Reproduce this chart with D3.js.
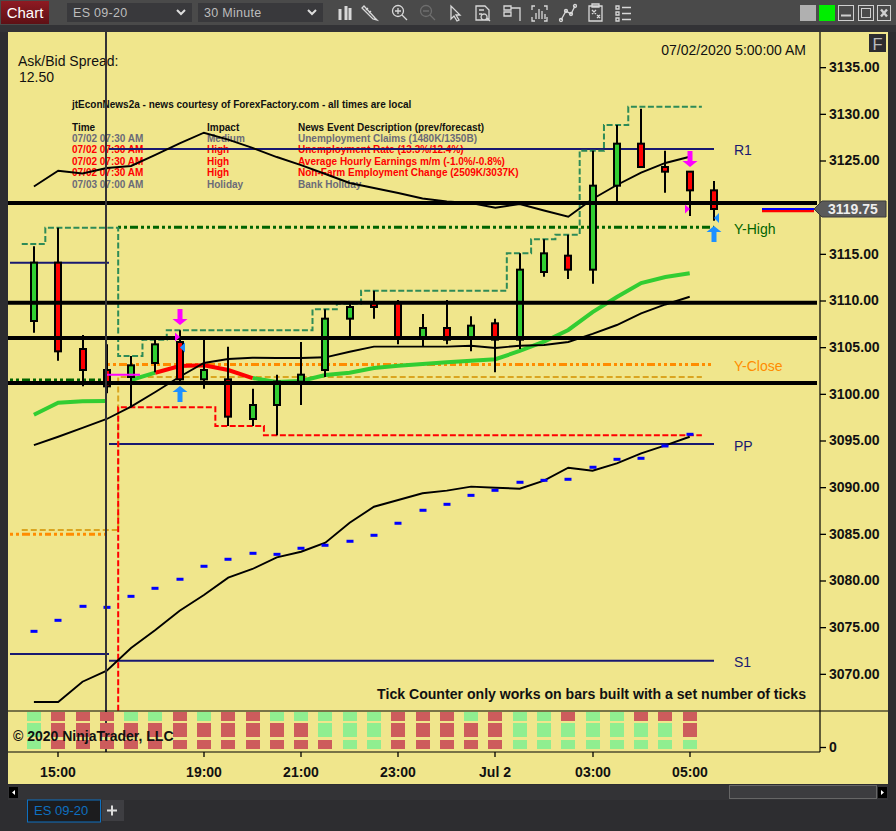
<!DOCTYPE html>
<html><head><meta charset="utf-8">
<script src="https://cdn.jsdelivr.net/npm/d3@7/dist/d3.min.js"></script>
<style>
html,body{margin:0;padding:0;background:#2d2d30;overflow:hidden}
svg{display:block}
text{font-family:"Liberation Sans",Arial,sans-serif}
</style></head><body>
<svg id="c" width="896" height="831"></svg>
<script>
// ---- data ----
const instrument = "ES 09-20";
const interval = "30 Minute";
const opens  = [3107.75,3114,3104.75,3102.5,3101.75,3103.25,3105.5,3101.5,3101.5,3097.25,3098.75,3101.25,3102.5,3108,3109.75,3109.75,3106,3107,3106,3107.5,3105.75,3113,3114.75,3113.25,3122.25,3126.75,3124.25,3123.75,3121.75];
const closes = [3114,3104.5,3102.5,3100.75,3103,3105.25,3101.5,3102.5,3097.5,3098.75,3101.25,3102,3108,3109.25,3109.25,3106,3107,3105.75,3107.25,3105.75,3113.25,3115,3113.25,3122.25,3126.75,3124.25,3123.75,3121.75,3119.75];
const highs  = [3115.75,3117.75,3106.25,3105.25,3104,3105.75,3106.75,3105.75,3105,3100.5,3102,3105.5,3109,3109.75,3111,3110,3108.5,3110,3108.25,3108,3115,3116.5,3117,3126,3128.75,3130.5,3126,3123.75,3122.75];
const lows   = [3106.5,3103.5,3100.75,3100,3098.5,3102.25,3101,3100.5,3096.5,3096.5,3095.5,3098.75,3101.75,3106,3108,3105.25,3105,3105.25,3104.5,3102.25,3104.75,3112.5,3112.25,3111.75,3120.5,3124.25,3121.5,3119,3118.5];

const upperLine = [3122.16,3123.85,3123.55,3124.14,3124.36,3125.54,3126.79,3127.92,3127.18,3126.29,3125.32,3124.46,3123.5,3122.54,3122,3121.46,3120.87,3120.55,3120.39,3119.89,3120.29,3119.59,3118.92,3120.82,3122.32,3123.64,3124.68,3125.35];
const midLine = [3094.46,3095.35,3096.29,3097.25,3098.57,3100.14,3101.78,3103.25,3103.68,3103.82,3103.79,3103.79,3103.86,3104.46,3105,3105,3105,3105,3105.1,3104.86,3105.1,3105.18,3105.5,3106.36,3107.32,3108.57,3109.52,3110.35];
const lowerLine = [3066.93,3066.93,3069.1,3070.28,3072.71,3074.64,3076.71,3078.39,3080.25,3081.18,3082.43,3083.03,3084,3086.14,3087.85,3088.57,3089.29,3089.57,3090,3089.89,3089.78,3090.64,3092.03,3091.71,3092.5,3093.57,3094.43,3095.35];
const blueDashes = [3074.5,3075.68,3077.18,3077.07,3078.25,3079.11,3080.08,3081.47,3082.22,3082.86,3082.75,3083.4,3083.72,3084.15,3084.79,3086.08,3087.47,3088.11,3089.07,3089.61,3090.47,3090.68,3090.79,3092.08,3092.93,3093.04,3094.36,3095.61];
const trendMA = [3097.71,3099,3099.15,3099.18,3101.43,3102.21,3102.93,3103,3102.5,3101.64,3101.21,3101.32,3101.96,3102.21,3102.71,3102.96,3103.14,3103.32,3103.5,3103.65,3104.54,3105.53,3106.79,3108.71,3110.32,3111.82,3112.46,3112.86];

const highStepAt  = [-0.5,0.47,3.47,4.47,5.47,11.47,12.47,13.47,19.47,20.47,21.47,22.47,23.47,24.47,27.5];
const highStepVal = [3116,3117.75,3104,3105.75,3106.75,3109,3109.6,3111,3115,3116.5,3117,3126,3128.75,3130.7,3130.7];
const lowStepAt   = [3.47,3.47,7.47,9.47,27.5];
const lowStepVal  = [3066,3098.5,3096.5,3095.5,3095.5];
const closeStepAt = [-0.5,3.47,27.5];
const closeStepVal= [3085.35,3101.75,3101.75];

const heavyLevels = [3120.4,3109.7,3105.93,3101.1];
const priorR1 = 3114, priorS1 = 3072.07;
const pivotR1 = 3126.18, pivotPP = 3094.57, pivotS1 = 3071.35;
const yHigh = 3117.8, yClose = 3103.1;
const yHighPrior = 3101.43, yClosePrior = 3084.9;

const priceTicks = [3135,3130,3125,3115,3110,3105,3100,3095,3090,3085,3080,3075,3070];
const timeTickAt = [1,7,11,15,19,23,27];
const timeTickLabels = ["15:00","19:00","21:00","23:00","Jul 2","03:00","05:00"];

const counterTop = "GRRRGGRGRRGGGGGRRRGRGGRGGRRR";
const counterMid = "GRRRRRRRRRRRGGGRRRRRGGGGGGGR";
const counterBot = "GRRRRRRRRRRRRGGRRRRRGGGGGGGG";

const downArrows = [6,27], downArrowPrice = [3107.43,3124.36];
const upArrows = [6,28], upArrowPrice = [3100.68,3117.82];
const rightFlags = [6,27], rightFlagPrice = [3106.04,3119.75];
const leftFlags = [6,28], leftFlagPrice = [3104.91,3118.79];
const crossBar = 3, crossPrice = 3102.0;
const lastPrice = 3119.75;

const newsTitle = "jtEconNews2a - news courtesy of ForexFactory.com - all times are local";
const newsHead = ["Time","Impact","News Event Description (prev/forecast)"];
const newsTimes = ["07/02 07:30 AM","07/02 07:30 AM","07/02 07:30 AM","07/02 07:30 AM","07/03 07:00 AM"];
const newsImpact = ["Medium","High","High","High","Holiday"];
const newsDesc = ["Unemployment Claims (1480K/1350B)","Unemployment Rate (13.3%/12.4%)","Average Hourly Earnings m/m (-1.0%/-0.8%)","Non-Farm Employment Change (2509K/3037K)","Bank Holiday"];

// ---- scales ----
const x = d3.scaleLinear().domain([0,28]).rangeRound([34,714]);
const xf = d3.scaleLinear().domain([0,28]).range([33.9,714]);
const y = d3.scaleLinear().domain([3095,3135]).range([440,66.67]);
const yv = d3.scaleLinear().domain([0,1]).range([747,720]);

const KHAKI="#F0E68C", NAVY="#191970", GREEN="#32CD32", RED="#FF0000", SEA="#2E8B57", DKGREEN="#006400", ORANGE="#FF8C00", GOLD="#DAA520";
const L=8,R=888,T=32,B=784,AX=820,SEP=711,BOT=752;

const svg = d3.select("#c");
const defs = svg.append("defs");
defs.append("clipPath").attr("id","price").append("rect").attr("x",L).attr("y",T).attr("width",AX-L).attr("height",SEP-T);
const g1 = defs.append("linearGradient").attr("id","btn").attr("x1",0).attr("x2",0).attr("y1",0).attr("y2",1);
g1.append("stop").attr("offset",0).attr("stop-color","#8f1a22");g1.append("stop").attr("offset",1).attr("stop-color","#5e1015");

// chrome
svg.append("rect").attr("width",896).attr("height",831).attr("fill","#2d2d30");
svg.append("rect").attr("width",896).attr("height",25).attr("fill","#4a4a4a");
svg.append("rect").attr("y",25).attr("width",896).attr("height",7).attr("fill","#333336");
svg.append("rect").attr("x",1).attr("y",1).attr("width",48).attr("height",23).attr("fill","url(#btn)");
svg.append("text").attr("x",25).attr("y",18).attr("text-anchor","middle").attr("fill","#fff").attr("font-size",15).text("Chart");
function combo(xp,w,label){
  svg.append("rect").attr("x",xp).attr("y",3).attr("width",w).attr("height",19).attr("fill","#39393c");
  svg.append("text").attr("x",xp+6).attr("y",17).attr("fill","#bdbdbd").attr("font-size",12.5).attr("letter-spacing",0.3).text(label);
  svg.append("path").attr("d",`M${xp+w-15},10l4,4l4,-4`).attr("fill","none").attr("stroke","#ddd").attr("stroke-width",2);
}
combo(67,125,instrument); combo(198,125,interval);
const ic = svg.append("g").attr("fill","none").attr("stroke","#d8d8d8").attr("stroke-width",1.3);
ic.append("path").attr("d","M340,9v11M346,6v14M350,8v12").attr("stroke-width",3);
ic.append("path").attr("d","M364,6l11,12l2,2l-4,-1l-11,-11zM366,10l2,-2M369,13l2,-2");
ic.append("circle").attr("cx",398).attr("cy",11).attr("r",5.5);ic.append("path").attr("d","M402,15l5,5M395,11h6M398,8v6");
const icd=ic.append("g").attr("stroke","#6e6e6e");icd.append("circle").attr("cx",426).attr("cy",11).attr("r",5.5);icd.append("path").attr("d","M430,15l5,5M423,11h6");
ic.append("path").attr("d","M451,6v13l3,-3l3,5l2,-1l-3,-5h4z");
ic.append("path").attr("d","M476,6h9l4,4v10h-13zM479,10h5M479,14h3M484,14a3,3 0 1 0 0.1,0M487,18l3,3");
ic.append("path").attr("d","M504,6h7v4h-7zM504,12h7v4h-7zM511,8h9v13");
ic.append("path").attr("d","M532,10v-4h3M544,6h3v4M532,17v4h3M544,21h3v-4M536,19v-6M539,19v-10M542,19v-8M545,19v-5");
ic.append("path").attr("d","M561,20l5,-9l5,3l4,-8");ic.append("g").selectAll("circle").data([[561,20],[566,11],[571,14],[575,6]]).join("circle").attr("cx",d=>d[0]).attr("cy",d=>d[1]).attr("r",1.5);
ic.append("path").attr("d","M589,6h13v15h-13zM592,4h7v3h-7zM592,10l4,4M596,10l-4,4M597,15l3,3M600,15l-3,3");
ic.append("path").attr("d","M616,6h3v3h-3zM616,12h3v3h-3zM616,18h3v3h-3zM622,7.5h9M622,13.5h9M622,19.5h9");
svg.append("rect").attr("x",800).attr("y",5).attr("width",16).attr("height",16).attr("fill","#b0b0b0");
svg.append("rect").attr("x",819).attr("y",5).attr("width",16).attr("height",16).attr("fill","#00ee00");
const wb=svg.append("g").attr("fill","none").attr("stroke","#cfcfcf").attr("stroke-width",1);
wb.append("rect").attr("x",838.5).attr("y",5.5).attr("width",15).attr("height",15);wb.append("path").attr("d","M841,15.5h10").attr("stroke-width",2);
wb.append("rect").attr("x",858.5).attr("y",5.5).attr("width",15).attr("height",15);wb.append("rect").attr("x",861.5).attr("y",8.5).attr("width",9).attr("height",9);
wb.append("rect").attr("x",877.5).attr("y",5.5).attr("width",13).attr("height",15);wb.append("path").attr("d","M881,9.5l6,7M887,9.5l-6,7").attr("stroke-width",2.4);

// panel
svg.append("rect").attr("x",L).attr("y",T).attr("width",R-L).attr("height",B-T).attr("fill",KHAKI);
svg.append("text").attr("x",18).attr("y",66).attr("font-size",14).attr("fill","#111").text("Ask/Bid Spread:");
svg.append("text").attr("x",19).attr("y",82).attr("font-size",14).attr("fill","#111").text("12.50");
svg.append("text").attr("x",806).attr("y",55).attr("text-anchor","end").attr("font-size",14).attr("fill","#111").text("07/02/2020 5:00:00 AM");
svg.append("rect").attr("x",869).attr("y",34).attr("width",17).attr("height",18).attr("fill","#2d2d30");
svg.append("text").attr("x",877.5).attr("y",49.5).attr("text-anchor","middle").attr("font-size",16.5).attr("fill","#bbb").text("F");

// news
const news = svg.append("g").attr("font-size",10).attr("font-weight","bold");
news.append("text").attr("x",72).attr("y",107.5).attr("fill","#111").text(newsTitle);
const colX=[72,207,298];
newsHead.forEach((t,i)=>news.append("text").attr("x",colX[i]).attr("y",131).attr("fill","#111").text(t));
const rowY = d3.scaleLinear().domain([0,4]).range([142,187.5]);
newsTimes.forEach((t,i)=>{
  const col = newsImpact[i]==="High"?RED:"#6b6b78";
  [t,newsImpact[i],newsDesc[i]].forEach((s,j)=>news.append("text").attr("x",colX[j]).attr("y",rowY(i)).attr("fill",col).text(s));
});

const plot = svg.append("g").attr("clip-path","url(#price)");
const line = d3.line().x((d,i)=>xf(i)).y(d=>y(d));

// session crosshair line
svg.append("line").attr("x1",106).attr("x2",106).attr("y1",T).attr("y2",BOT).attr("stroke","#333336").attr("stroke-width",2);

// pivots
function hl(i0,i1,v,col,w,dash){
  const l=plot.append("line").attr("x1",i0).attr("x2",i1).attr("y1",y(v)).attr("y2",y(v)).attr("stroke",col).attr("stroke-width",w);
  if(dash) l.attr("stroke-dasharray",dash);
  return l;
}
const xS = x(3)+2;
hl(10,109,priorR1,NAVY,2); hl(10,109,priorS1,NAVY,2);
hl(xS,x(28),pivotR1,NAVY,2); hl(xS,x(28),pivotPP,NAVY,2); hl(xS,x(28),pivotS1,NAVY,2);

// prior-day levels
const dotted="3 3 3 3 8 3 3 3 3 3 6 3";
hl(10,x(3),yHighPrior,DKGREEN,3,dotted); hl(x(3.47),x(28),yHigh,DKGREEN,3,dotted);
hl(10,x(3),yClosePrior,ORANGE,3,dotted); hl(x(3),x(28),yClose,ORANGE,3,dotted);

// step lines
const stepLine = d3.line().curve(d3.curveStepAfter).x(d=>xf(d[0])).y(d=>y(d[1]));
plot.append("path").attr("d",stepLine(d3.zip(closeStepAt,closeStepVal))).attr("fill","none").attr("stroke",GOLD).attr("stroke-width",2).attr("stroke-dasharray","6 3");
plot.append("path").attr("d",stepLine(d3.zip(highStepAt,highStepVal))).attr("fill","none").attr("stroke",SEA).attr("stroke-width",2).attr("stroke-dasharray","6 2.5");
plot.append("path").attr("d",stepLine(d3.zip(lowStepAt,lowStepVal))).attr("fill","none").attr("stroke",RED).attr("stroke-width",2).attr("stroke-dasharray","6 2.5");

// trend MA: a session gap after bar 3, a red stretch over bars 5-9
const seg=(a,b)=>d3.line().x(d=>xf(d[0])).y(d=>y(d[1]))(d3.range(a,b+1).map(i=>[i,trendMA[i]]));
[[0,3,GREEN],[4,5,GREEN],[9,27,GREEN],[5,9,RED]].forEach(s=>plot.append("path").attr("d",seg(s[0],s[1])).attr("fill","none").attr("stroke",s[2]).attr("stroke-width",4));

// thin lines
[upperLine,midLine,lowerLine].forEach(a=>plot.append("path").attr("d",line(a)).attr("fill","none").attr("stroke","#000").attr("stroke-width",1.9));

// blue dashes
plot.selectAll("rect.bd").data(blueDashes).join("rect").attr("class","bd").attr("x",(d,i)=>x(i)-3.5).attr("width",7).attr("y",d=>y(d)-1.5).attr("height",3).attr("fill","#0000ff");

// candles
const bars = d3.range(opens.length);
plot.selectAll("line.w").data(bars).join("line").attr("class","w").attr("x1",i=>x(i)).attr("x2",i=>x(i)).attr("y1",i=>y(highs[i])).attr("y2",i=>y(lows[i])).attr("stroke","#000").attr("stroke-width",2);
plot.selectAll("rect.b").data(bars).join("rect").attr("class","b")
  .attr("x",i=>x(i)-3).attr("width",6)
  .attr("y",i=>y(Math.max(opens[i],closes[i])))
  .attr("height",i=>Math.max(2,Math.abs(y(opens[i])-y(closes[i]))))
  .attr("fill",i=>closes[i]>=opens[i]?GREEN:RED).attr("stroke","#000").attr("stroke-width",2);

// heavy levels
heavyLevels.forEach(v=>hl(L,AX-3,v,"#000",4));

// crossbar
plot.append("line").attr("x1",x(crossBar)).attr("x2",x(crossBar+1)+9).attr("y1",y(crossPrice)).attr("y2",y(crossPrice)).attr("stroke","#FF00FF").attr("stroke-width",2);

// signal arrows
const arrowDown = p=>`M${p[0]-2.5},${p[1]-15}h5v10h5l-7.5,6l-7.5,-6h5z`;
const arrowUp = p=>`M${p[0]-2.5},${p[1]+15}h5v-10h5l-7.5,-6l-7.5,6h5z`;
downArrows.forEach((b,i)=>plot.append("path").attr("d",arrowDown([x(b),y(downArrowPrice[i])])).attr("fill","#FF00FF"));
upArrows.forEach((b,i)=>plot.append("path").attr("d",arrowUp([x(b),y(upArrowPrice[i])])).attr("fill","#1E90FF"));
rightFlags.forEach((b,i)=>plot.append("path").attr("d",`M${x(b)-5},${y(rightFlagPrice[i])-4.5}l5,4.5l-5,4.5z`).attr("fill","#FF00FF"));
leftFlags.forEach((b,i)=>plot.append("path").attr("d",`M${x(b)+5},${y(leftFlagPrice[i])-5}l-5,5l5,5z`).attr("fill","#1E90FF"));

// level labels
[["R1",pivotR1,NAVY],["Y-High",yHigh,DKGREEN],["Y-Close",yClose,ORANGE],["PP",pivotPP,NAVY],["S1",pivotS1,NAVY]].forEach(d=>
  svg.append("text").attr("x",734).attr("y",y(d[1])+6.5).attr("font-size",14).attr("fill",d[2]).text(d[0]));

svg.append("text").attr("x",806).attr("y",698.5).attr("text-anchor","end").attr("font-size",14.1).attr("font-weight","bold").attr("fill","#111").text("Tick Counter only works on bars built with a set number of ticks");

// counter panel
const rowTop=[712,723,740], rowH=[9,14,9];
[counterTop,counterMid,counterBot].forEach((s,r)=>{
  svg.selectAll("rect.c"+r).data(s.split("").slice(0,28)).join("rect").attr("class","c"+r)
    .attr("x",(d,i)=>x(i)-7).attr("width",14).attr("y",rowTop[r]).attr("height",rowH[r])
    .attr("fill",d=>d==="G"?"#90EE90":"#CD5C5C");
});
svg.append("text").attr("x",13).attr("y",740.5).attr("font-size",14).attr("font-weight","bold").attr("fill","#111").text("\u00A9 2020 NinjaTrader, LLC");

// panel frame
const fr=svg.append("g").attr("stroke","#000").attr("stroke-width",1.2);
fr.append("line").attr("x1",L).attr("x2",R).attr("y1",SEP).attr("y2",SEP);
fr.append("line").attr("x1",L).attr("x2",AX).attr("y1",BOT).attr("y2",BOT);
fr.append("line").attr("x1",AX).attr("x2",AX).attr("y1",T).attr("y2",BOT);

// axes
const tickFont='"Liberation Sans",Arial,sans-serif';
const axY = d3.axisRight(y).tickValues(priceTicks).tickFormat(d3.format(".2f")).tickSize(6).tickPadding(3);
const gy = svg.append("g").attr("transform",`translate(${AX},0.5)`).call(axY);
gy.select(".domain").remove();
gy.selectAll("text").attr("font-size",14).attr("font-weight","bold").attr("fill","#111").attr("font-family",tickFont);
gy.selectAll("line").attr("stroke","#000").attr("stroke-width",1.3);
const axV = d3.axisRight(yv).tickValues([0]).tickFormat(d3.format("d")).tickSize(6).tickPadding(3);
const gv = svg.append("g").attr("transform",`translate(${AX},0)`).call(axV);
gv.select(".domain").remove();
gv.selectAll("text").attr("font-size",14).attr("font-weight","bold").attr("fill","#111").attr("font-family",tickFont);
gv.selectAll("line").attr("stroke","#000").attr("stroke-width",1.3);
const axX = d3.axisBottom(x).tickValues(timeTickAt).tickFormat((d,i)=>timeTickLabels[i]).tickSize(5).tickPadding(10);
const gx = svg.append("g").attr("transform",`translate(-0.5,${BOT})`).call(axX);
gx.select(".domain").remove();
gx.selectAll("text").attr("font-size",14).attr("font-weight","bold").attr("fill","#111").attr("font-family",tickFont);
gx.selectAll("line").attr("stroke","#000").attr("stroke-width",1.3);

// last price marker
const ly=y(lastPrice);
svg.append("line").attr("x1",762).attr("x2",814).attr("y1",ly).attr("y2",ly).attr("stroke","#0000ff").attr("stroke-width",2.2);
svg.append("line").attr("x1",762).attr("x2",814).attr("y1",ly+2.2).attr("y2",ly+2.2).attr("stroke",RED).attr("stroke-width",2.2);
svg.append("path").attr("d",`M814,${ly}l8,-8h64v16h-64z`).attr("fill","#5a5a5a").attr("stroke","#3a3a3a");
svg.append("text").attr("x",828).attr("y",ly+5).attr("font-size",14).attr("font-weight","bold").attr("fill","#eee").text(d3.format(".2f")(lastPrice));

// scrollbar and tabs
svg.append("rect").attr("x",L).attr("y",785).attr("width",R-L).attr("height",15).attr("fill","#333336");
svg.append("rect").attr("x",9).attr("y",787).attr("width",9).attr("height",11).attr("fill","#000");
svg.append("path").attr("d","M15,790v5l-3,-2.5z").attr("fill","#fff");
svg.append("rect").attr("x",878).attr("y",787).attr("width",9).attr("height",11).attr("fill","#000");
svg.append("path").attr("d","M881,790v5l3,-2.5z").attr("fill","#fff");
svg.append("rect").attr("x",729.5).attr("y",785.5).attr("width",147).attr("height",13).attr("fill","#3c3c3f").attr("stroke","#666");
svg.append("rect").attr("x",27.5).attr("y",800).attr("width",73).attr("height",22).attr("fill","#1c1c1e").attr("stroke","#0e70c0");
svg.append("text").attr("x",34).attr("y",815).attr("font-size",13).attr("fill","#0e70c0").text(instrument);
svg.append("rect").attr("x",102).attr("y",800).attr("width",22).attr("height",21).attr("fill","#3e3e42");
svg.append("path").attr("d","M107,810.5h10M112,805.5v10").attr("stroke","#ddd").attr("stroke-width",2);
</script>
</body></html>
